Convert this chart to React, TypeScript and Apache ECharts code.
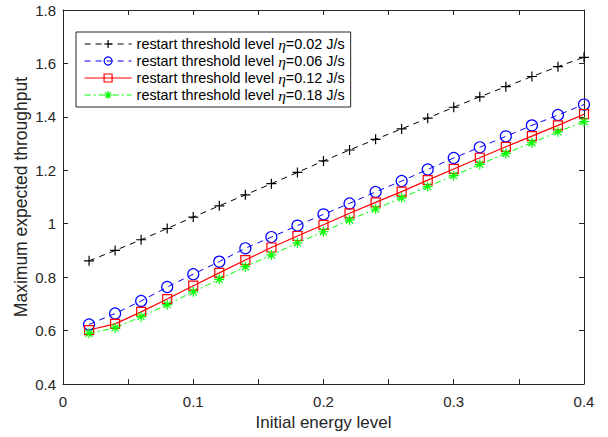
import React, { useEffect, useRef } from "react";
import * as echarts from "echarts";

const xValues = [0.02, 0.04, 0.06, 0.08, 0.1, 0.12, 0.14, 0.16, 0.18, 0.2, 0.22, 0.24, 0.26, 0.28, 0.3, 0.32, 0.34, 0.36, 0.38, 0.4];
const eta002 = [0.861, 0.9, 0.94, 0.982, 1.025, 1.067, 1.108, 1.15, 1.192, 1.235, 1.276, 1.316, 1.355, 1.395, 1.436, 1.475, 1.513, 1.551, 1.588, 1.623];
const eta006 = [0.623, 0.664, 0.711, 0.763, 0.811, 0.858, 0.908, 0.95, 0.993, 1.035, 1.076, 1.119, 1.16, 1.203, 1.246, 1.286, 1.327, 1.368, 1.407, 1.446];
const eta012 = [0.602, 0.625, 0.67, 0.718, 0.768, 0.816, 0.864, 0.911, 0.954, 0.996, 1.039, 1.08, 1.12, 1.163, 1.205, 1.247, 1.288, 1.328, 1.368, 1.41];
const eta018 = [0.59, 0.61, 0.652, 0.697, 0.745, 0.792, 0.839, 0.883, 0.928, 0.97, 1.014, 1.055, 1.097, 1.139, 1.18, 1.222, 1.263, 1.303, 1.344, 1.382];
const etaNames = ["0.02", "0.06", "0.12", "0.18"];

const AX = "#262626";
const FONT = "'Liberation Sans', Arial, Helvetica, sans-serif";

const PLUS = "path://M5,0L5,10M0,5L10,5";
const STAR = "path://M5,0L5,10M0,5L10,5M1.5,1.5L8.5,8.5M1.5,8.5L8.5,1.5";

export default function App() {
  const ref = useRef<HTMLDivElement>(null);
  useEffect(() => {
    if (!ref.current) return;
    const chart = echarts.init(ref.current, undefined, { renderer: "svg" });
    const zip = (ys: number[]) => xValues.map((x, i) => [x, ys[i]]);
    const lbl = (v: number) => {
      const t = v * 10;
      return Math.abs(t - Math.round(t)) < 1e-6 ? String(Math.round(t) / 10) : "";
    };
    const baseX = {
      type: "value" as const,
      min: 0,
      max: 0.4,
      interval: 0.05,
      axisLine: { show: true, onZero: false, lineStyle: { color: AX, width: 1 } },
      axisTick: { show: true, inside: true, length: 5, lineStyle: { color: AX } },
      splitLine: { show: false },
    };
    const baseY = {
      type: "value" as const,
      min: 0.4,
      max: 1.8,
      interval: 0.2,
      axisLine: { show: true, onZero: false, lineStyle: { color: AX, width: 1 } },
      axisTick: { show: true, inside: true, length: 5, lineStyle: { color: AX } },
      splitLine: { show: false },
    };
    const styles = [
      { symbol: PLUS, size: 10, color: "#000000", type: [6, 5] as any, lw: 1 },
      { symbol: "circle", size: 11, color: "#0000ff", type: [6, 5] as any, lw: 1 },
      { symbol: "rect", size: 9, color: "#ff0000", type: "solid" as any, lw: 1.2 },
      { symbol: STAR, size: 10, color: "#00ff00", type: [6, 3, 2, 3] as any, lw: 1 },
    ];
    const dataSets = [eta002, eta006, eta012, eta018];
    chart.setOption({
      animation: false,
      backgroundColor: "#ffffff",
      grid: { left: 63, right: 24, top: 10, bottom: 53, containLabel: false },
      textStyle: { fontFamily: FONT },
      xAxis: [
        {
          ...baseX,
          position: "bottom",
          name: "Initial energy level",
          nameLocation: "middle",
          nameGap: 30,
          nameMoveOverlap: false,
          nameTextStyle: { color: AX, fontSize: 17, fontFamily: FONT, verticalAlign: "top" },
          axisLabel: { color: AX, fontSize: 15, fontFamily: FONT, margin: 10, formatter: lbl, showMinLabel: true, showMaxLabel: true },
        },
        { ...baseX, position: "top", axisLabel: { show: false } },
      ],
      yAxis: [
        {
          ...baseY,
          position: "left",
          name: "Maximum expected throughput",
          nameLocation: "middle",
          nameGap: 33,
          nameMoveOverlap: false,
          nameTextStyle: { color: AX, fontSize: 17.5, fontFamily: FONT },
          axisLabel: { color: AX, fontSize: 15, fontFamily: FONT, margin: 7 },
        },
        { ...baseY, position: "right", axisLabel: { show: false } },
      ],
      legend: {
        left: 76,
        top: 32,
        orient: "vertical",
        itemWidth: 47,
        itemHeight: 10,
        itemGap: 1,
        padding: [4, 6, 4, 8],
        borderColor: AX,
        borderWidth: 1,
        backgroundColor: "#ffffff",
        formatter: (name: string) => "restart threshold level {i|η}=" + name + " J/s",
        textStyle: {
          color: "#000000",
          fontSize: 14.4,
          fontFamily: FONT,
          rich: {
            i: { fontStyle: "italic", fontFamily: "'Liberation Serif', 'DejaVu Serif', serif", fontSize: 15.5, color: "#000000" },
          },
        },
        data: etaNames.map((n, k) => ({
          name: n,
          itemStyle: { color: "rgba(0,0,0,0)", borderColor: styles[k].color, borderWidth: 1.2 },
          lineStyle: { color: styles[k].color, width: styles[k].lw, type: styles[k].type },
        })),
      },
      series: etaNames.map((n, k) => ({
        name: n,
        type: "line",
        data: zip(dataSets[k]),
        symbol: styles[k].symbol,
        symbolSize: styles[k].size,
        lineStyle: { color: styles[k].color, width: styles[k].lw, type: styles[k].type },
        itemStyle: { color: "rgba(0,0,0,0)", borderColor: styles[k].color, borderWidth: 1.2 },
      })),
    });
    return () => chart.dispose();
  }, []);
  return <div ref={ref} style={{ width: 608, height: 437, position: "absolute", left: 0, top: 0 }} />;
}
